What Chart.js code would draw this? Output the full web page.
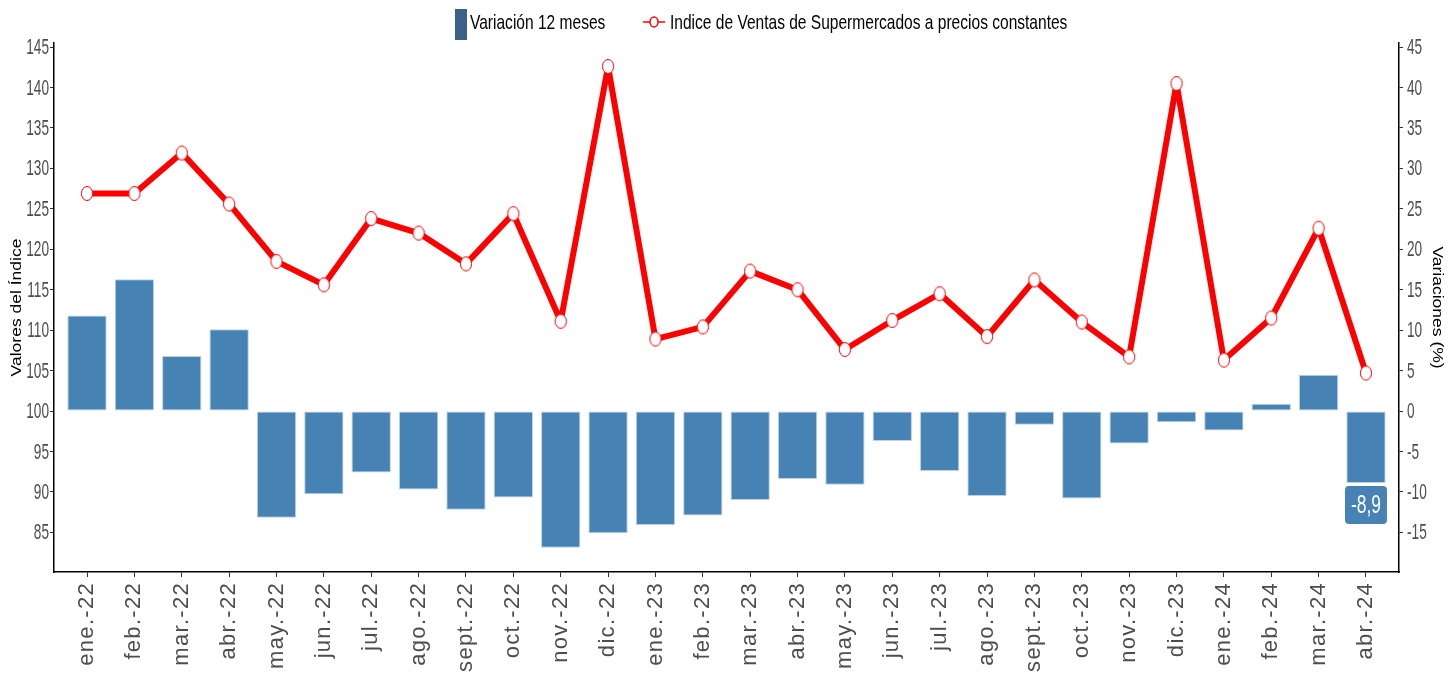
<!DOCTYPE html>
<html>
<head>
<meta charset="utf-8">
<script src="https://cdn.jsdelivr.net/npm/chart.js@4/dist/chart.umd.min.js"></script>
<style>
  body { margin: 0; background: #fff; }
  #wrap { width: 1453px; height: 679px; }
</style>
</head>
<body>
<div id="wrap"><canvas id="ventasChart" width="1453" height="679"></canvas></div>
<script>
// Datos
const meses = ['ene.-22', 'feb.-22', 'mar.-22', 'abr.-22', 'may.-22', 'jun.-22', 'jul.-22', 'ago.-22',
    'sept.-22', 'oct.-22', 'nov.-22', 'dic.-22', 'ene.-23', 'feb.-23', 'mar.-23', 'abr.-23', 'may.-23',
    'jun.-23', 'jul.-23', 'ago.-23', 'sept.-23', 'oct.-23', 'nov.-23', 'dic.-23', 'ene.-24', 'feb.-24',
    'mar.-24', 'abr.-24'];
const indiceVentas = [126.9, 126.9, 131.9, 125.6, 118.5, 115.6, 123.8, 122.0, 118.2, 124.4, 111.1, 142.6,
    108.9, 110.4, 117.3, 115.0, 107.6, 111.2, 114.5, 109.2, 116.2, 111.0, 106.7, 140.5, 106.3, 111.5,
    122.6, 104.7];
const variacion12 = [11.8, 16.3, 6.8, 10.1, -13.2, -10.3, -7.6, -9.7, -12.2, -10.7, -16.9, -15.1,
    -14.1, -12.9, -11.0, -8.4, -9.1, -3.7, -7.4, -10.5, -1.7, -10.8, -4.0, -1.4, -2.4, 0.9, 4.5, -8.9];
const ticksIndice = [85, 90, 95, 100, 105, 110, 115, 120, 125, 130, 135, 140, 145];
const ticksVariacion = [-15, -10, -5, 0, 5, 10, 15, 20, 25, 30, 35, 40, 45];

const fuente = "'Liberation Sans', Arial, sans-serif";

// texto angosto (el original usa una fuente condensada)
function textoAngosto(c, txt, x, y, size, sx, align) {
    c.save();
    c.translate(x, y);
    c.scale(sx, 1);
    c.font = size + 'px ' + fuente;
    c.textAlign = align || 'left';
    c.textBaseline = 'middle';
    c.fillText(txt, 0, 0);
    c.restore();
}

// punto elíptico blanco con borde rojo
const punto = document.createElement('canvas');
punto.width = 14; punto.height = 17;
(function () {
    const p = punto.getContext('2d');
    p.beginPath();
    p.ellipse(7, 8.5, 5.6, 7, 0, 0, Math.PI * 2);
    p.fillStyle = '#fff';
    p.fill();
    p.strokeStyle = '#ff0000';
    p.lineWidth = 1;
    p.stroke();
})();

// espaciado de letras para las etiquetas del eje x
const espaciado = {
    id: 'espaciado',
    beforeDraw(chart) { chart.ctx.letterSpacing = '1.3px'; },
    afterDraw(chart) { chart.ctx.letterSpacing = '0px'; }
};

// leyenda, etiquetas de ejes y titulos
const decorado = {
    id: 'decorado',
    afterDraw(chart) {
        const c = chart.ctx;
        c.save();
        c.letterSpacing = '0px';
        // leyenda
        c.fillStyle = '#3b6189';
        c.fillRect(455, 9, 12, 31);
        c.fillStyle = '#000';
        textoAngosto(c, 'Variación 12 meses', 470, 23, 21, 0.74);
        c.strokeStyle = '#ff0000';
        c.lineWidth = 1.5;
        c.beginPath();
        c.moveTo(643, 22); c.lineTo(665, 22);
        c.stroke();
        c.beginPath();
        c.ellipse(654, 22, 4, 5, 0, 0, Math.PI * 2);
        c.fillStyle = '#fff';
        c.fill();
        c.stroke();
        c.fillStyle = '#000';
        textoAngosto(c, 'Indice de Ventas de Supermercados a precios constantes', 670, 23, 21, 0.74);

        // ticks de los ejes y
        const y = chart.scales.y, y1 = chart.scales.y1;
        c.fillStyle = '#4d4d4d';
        ticksIndice.forEach(v => textoAngosto(c, String(v), y.right - 5, y.getPixelForValue(v) + 1, 22, 0.62, 'right'));
        ticksVariacion.forEach(v => textoAngosto(c, String(v), y1.left + 8, y1.getPixelForValue(v) + 1, 22, 0.62, 'left'));

        // titulos de ejes
        c.fillStyle = '#000';
        c.save();
        c.translate(17, (chart.chartArea.top + chart.chartArea.bottom) / 2);
        c.rotate(-Math.PI / 2);
        textoAngosto(c, 'Valores del Índice', 0, 0, 14, 1.25, 'center');
        c.restore();
        c.save();
        c.translate(1437, (chart.chartArea.top + chart.chartArea.bottom) / 2);
        c.rotate(Math.PI / 2);
        textoAngosto(c, 'Variaciones (%)', 0, 0, 14, 1.25, 'center');
        c.restore();

        // etiqueta del ultimo mes
        const i = variacion12.length - 1;
        const bar = chart.getDatasetMeta(0).data[i];
        const w = 42, h = 38;
        const bx = bar.x - w / 2, by = bar.y + 3;
        c.fillStyle = '#4682b4';
        c.beginPath();
        c.roundRect(bx, by, w, h, 4);
        c.fill();
        c.fillStyle = '#fff';
        textoAngosto(c, String(variacion12[i]).replace('.', ','), bar.x, by + h / 2 + 1, 25, 0.7, 'center');
        c.restore();
    }
};

const ctx = document.getElementById('ventasChart').getContext('2d');
new Chart(ctx, {
    data: {
        datasets: [
            {
                type: 'bar',
                label: 'Variación 12 meses',
                data: variacion12.map((v, i) => ({ x: i, y: v })),
                yAxisID: 'y1',
                backgroundColor: '#4682b4',
                borderColor: 'rgba(180,205,225,0.9)',
                borderWidth: 1,
                borderSkipped: false,
                barPercentage: 0.83,
                categoryPercentage: 1,
                order: 2
            },
            {
                type: 'line',
                label: 'Indice de Ventas de Supermercados a precios constantes',
                data: indiceVentas.map((v, i) => ({ x: i, y: v })),
                yAxisID: 'y',
                borderColor: '#ff0000',
                borderWidth: 6,
                borderJoinStyle: 'round',
                pointStyle: punto,
                pointRadius: 7,
                tension: 0,
                order: 1
            }
        ]
    },
    options: {
        responsive: false,
        animation: false,
        layout: { padding: { top: 43, right: 0, left: 0, bottom: 0 } },
        plugins: { legend: { display: false }, tooltip: { enabled: false } },
        scales: {
            x: {
                type: 'linear',
                offset: false,
                min: -0.697,
                max: 27.697,
                afterBuildTicks: s => { s.ticks = meses.map((m, i) => ({ value: i })); },
                afterFit: s => { s.height = 107; },
                ticks: {
                    callback: (v) => meses[v],
                    autoSkip: false,
                    minRotation: 90,
                    maxRotation: 90,
                    padding: 5,
                    color: '#4d4d4d',
                    font: { family: fuente, size: 22 }
                },
                grid: { offset: false, drawOnChartArea: false, drawTicks: true, tickLength: 5, color: '#333' },
                border: { display: true, color: '#000', width: 1.5 }
            },
            y: {
                position: 'left',
                min: 80.1,
                max: 145.5,
                afterBuildTicks: s => { s.ticks = ticksIndice.map(v => ({ value: v })); },
                afterFit: s => { s.width = 54; },
                ticks: { display: false },
                grid: { drawOnChartArea: false, drawTicks: true, tickLength: 4, color: '#333' },
                border: { display: true, color: '#000', width: 1.5 }
            },
            y1: {
                position: 'right',
                min: -19.9,
                max: 45.5,
                afterBuildTicks: s => { s.ticks = ticksVariacion.map(v => ({ value: v })); },
                afterFit: s => { s.width = 54; },
                ticks: { display: false },
                grid: { drawOnChartArea: false, drawTicks: true, tickLength: 4, color: '#333' },
                border: { display: true, color: '#000', width: 1.5 }
            }
        }
    },
    plugins: [espaciado, decorado]
});
</script>
</body>
</html>
